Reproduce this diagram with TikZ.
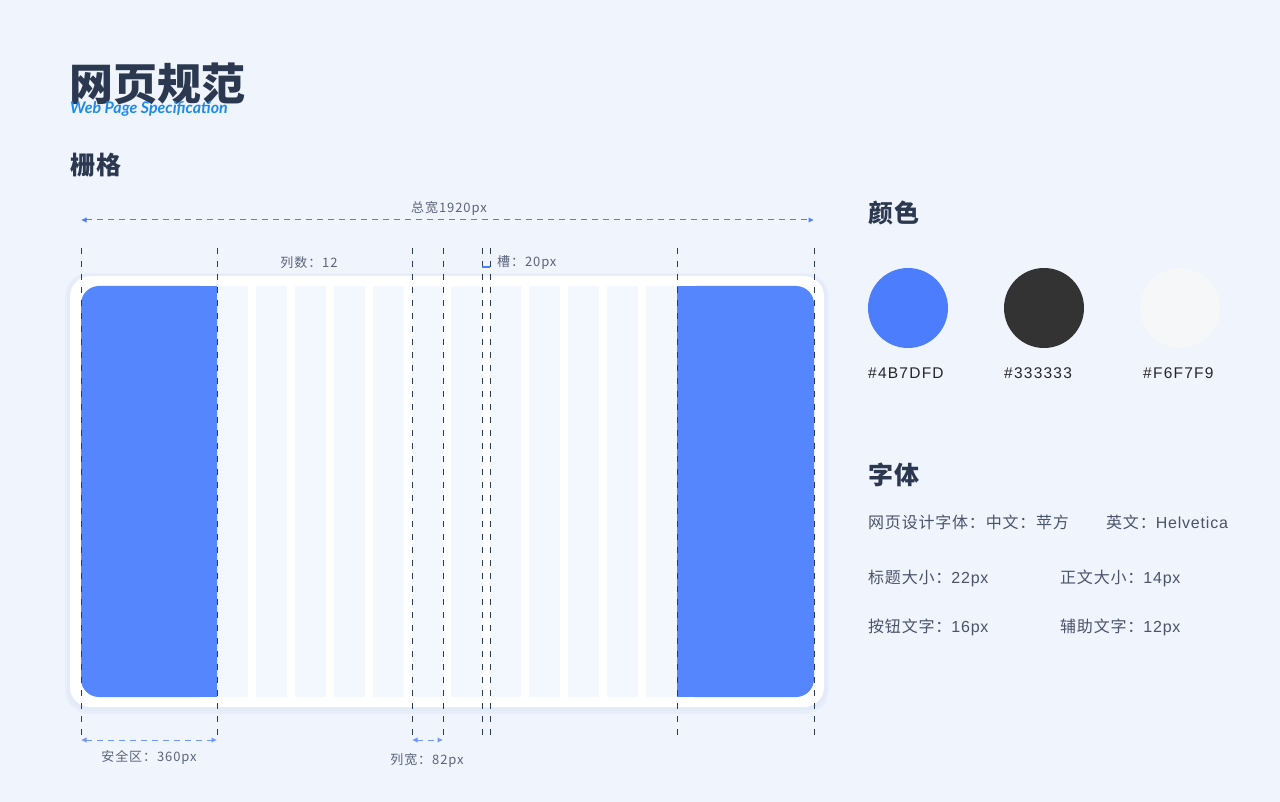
\documentclass[tikz,border=0pt]{standalone}
\usepackage{fontspec}
\setmainfont{Noto Sans CJK SC}
\newfontfamily\latinf{Lato}
\newfontfamily\cjkls{Noto Sans CJK SC}[LetterSpace=5]
\newfontfamily\cjksm{Noto Sans CJK SC}[LetterSpace=7]
\newfontfamily\latls{Liberation Sans}[LetterSpace=5]
\newfontfamily\hexf{Liberation Sans}[LetterSpace=8]
\usetikzlibrary{arrows.meta}
\definecolor{bg}{HTML}{EFF4FD}
\definecolor{navy}{HTML}{2B3850}
\definecolor{guide}{HTML}{2C3B57}
\definecolor{mainblue}{HTML}{5586FD}
\definecolor{dimblue}{HTML}{4B7DFD}
\definecolor{colfill}{HTML}{F3F8FE}
\definecolor{labelgray}{HTML}{5B6478}
\definecolor{bodygray}{HTML}{4A5468}
\definecolor{titleblue}{HTML}{1E8AF0}
\definecolor{shadowc}{HTML}{DDE5F5}
\tikzset{
  guideline/.style={draw=guide, line width=0.9pt, dash pattern=on 6pt off 7pt},
  dimline/.style={draw=dimblue, line width=1pt, dash pattern=on 6pt off 5pt, {Latex[length=5.5pt,width=5.5pt]}-{Latex[length=5.5pt,width=5.5pt]}},
  smalllabel/.style={text=labelgray, font=\cjksm\fontsize{13}{15}\selectfont, inner sep=0pt},
  heading/.style={text=navy, font=\cjkls\fontsize{25}{29}\selectfont\bfseries, anchor=west, inner sep=0pt},
  bodytext/.style={text=bodygray, font=\cjkls\fontsize{16}{19}\selectfont, anchor=west, inner sep=0pt},
  hexlabel/.style={text=black!85, font=\hexf\fontsize{15.5}{18}\selectfont, anchor=west, inner sep=0pt},
  swatch/.style={circle, minimum size=80pt, inner sep=0pt}
}
\begin{document}
\begin{tikzpicture}[x=1pt,y=-1pt]
\fill[bg] (0,0) rectangle (1280,802);
\useasboundingbox (0,0) rectangle (1280,802);
% title
\node[text=navy, font=\fontsize{44}{48}\selectfont\bfseries, anchor=west, inner sep=0pt] (title) at (69,84) {网页规范};
\node[text=titleblue, font=\latinf\fontsize{16}{17}\selectfont\bfseries\itshape, anchor=west, inner sep=0pt] (subtitle) at (70,109) {Web Page Specification};
\node[heading] (grid) at (70,165) {栅格};
% card shadow and card
\fill[shadowc, opacity=0.3, rounded corners=24] (65,273) rectangle (829,714);
\fill[shadowc, opacity=0.4, rounded corners=22] (67,275) rectangle (827,711);
\fill[white, rounded corners=20] (70,276) rectangle (824,707);
% columns
\foreach \i in {0,...,11} {
  \fill[colfill] ({217+39*\i},286) rectangle ++(31,411);
}
% blue safe areas
\fill[mainblue, rounded corners=18] (81,286) rectangle (217,697);
\fill[mainblue] (160,286) rectangle (217,697);
\fill[mainblue, rounded corners=18] (677,286) rectangle (814,697);
\fill[mainblue] (677,286) rectangle (730,697);
% guide coordinates
\foreach \n/\x in {a/81,b/217,c/412,d/443,e/482,f/490,g/677,h/814} {
  \coordinate (\n top) at (\x,248);
  \coordinate (\n bot) at (\x,735);
}
\foreach \n in {a,b,c,d,e,f,g,h} {
  \draw[guideline] (\n top) -- (\n bot);
}
% top dimension
\coordinate (tl) at (81,220);
\coordinate (tr) at (814,220);
\draw[dimline] (tl) -- (tr);
\node[smalllabel] (total) at (449,208) {总宽1920px};
\node[smalllabel] (cols) at (309,263) {列数：12};
\coordinate (gl) at (482,267);
\coordinate (gr) at (490,267);
\draw[dimblue, line width=1.2pt] (gl) -- (gr);
\node[smalllabel, anchor=west] (gutter) at (497,263) {槽：20px};
% bottom dimensions
\coordinate (sl) at (81,740);
\coordinate (sr) at (217,740);
\draw[dimline, draw=dimblue!80] (sl) -- (sr);
\node[smalllabel] (safe) at (149,757) {安全区：360px};
\coordinate (cl) at (412,740);
\coordinate (cr) at (443,740);
\draw[dimline, draw=dimblue!80] (cl) -- (cr);
\node[smalllabel] (colw) at (427,760) {列宽：82px};
% colors
\node[heading] (colorh) at (868,213) {颜色};
\node[swatch, fill=dimblue] (c1) at (908,308) {};
\node[swatch, fill=black!80] (c2) at (1044,308) {};
\node[swatch, fill={rgb,255:red,246;green,247;blue,249}] (c3) at (1180,308) {};
\node[hexlabel] (h1) at (868,373) {\#4B7DFD};
\node[hexlabel] (h2) at (1004,373) {\#333333};
\node[hexlabel] (h3) at (1143,373) {\#F6F7F9};
% fonts
\node[heading] (fonth) at (868,475) {字体};
\node[bodytext] (f1) at (868,522) {网页设计字体：中文：苹方};
\node[bodytext] (f2) at (1106,522) {英文：{\latls Helvetica}};
\node[bodytext] (f3) at (868,578) {标题大小：{\latls 22px}};
\node[bodytext] (f4) at (1060,578) {正文大小：{\latls 14px}};
\node[bodytext] (f5) at (868,627) {按钮文字：{\latls 16px}};
\node[bodytext] (f6) at (1060,627) {辅助文字：{\latls 12px}};
\end{tikzpicture}
\end{document}
